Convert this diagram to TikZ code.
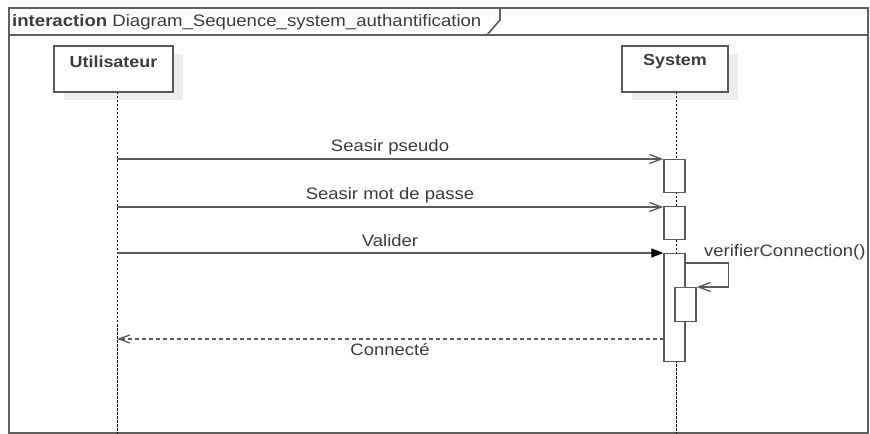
\documentclass[tikz,border=0pt]{standalone}
\usepackage{fontspec}
\setmainfont{Liberation Sans}[FakeStretch=1.12]
\usetikzlibrary{arrows.meta,shadows}
\definecolor{umlline}{HTML}{5A5A5A}
\definecolor{framecol}{HTML}{606060}
\definecolor{txtgray}{HTML}{3C3C3C}
\definecolor{shadowcol}{HTML}{EDEDED}
\begin{document}
\begin{tikzpicture}[x=1bp,y=-1bp,
  framepath/.style={draw=framecol, line width=1.7bp},
  actorbox/.style={draw=umlline, line width=1.4bp, fill=white, inner sep=0,
    minimum height=46bp,
    drop shadow={shadow xshift=10bp, shadow yshift=-8bp, fill=shadowcol, opacity=1}},
  actorname/.style={inner sep=0, text=txtgray, font=\fontsize{16bp}{19bp}\selectfont\bfseries},
  lifeline/.style={draw=black, line width=1bp, dash pattern=on 2.5bp off 1.5bp},
  activation/.style={draw=umlline, fill=white, line width=1.4bp, inner sep=0,
    minimum width=21bp, anchor=north},
  msg/.style={draw=umlline, line width=1.3bp, -{Straight Barb[length=12bp,width=9bp]}},
  syncmsg/.style={draw=umlline, line width=1.3bp,
    -{Triangle[length=12bp,width=9bp,color=black]}},
  reply/.style={draw=umlline, line width=1.3bp, dash pattern=on 4bp off 3bp,
    -{Straight Barb[length=11bp,width=8bp]}},
  msgtext/.style={inner sep=0, text=txtgray, font=\fontsize{16.5bp}{19bp}\selectfont}
]
\useasboundingbox (0,0) rectangle (870,434);

% interaction frame with its name tab
\draw[framepath] (9,8) rectangle (868,433);
\draw[framepath] (9,35) -- (868,35);
\draw[framepath] (500,8) -- (500,20) -- (487,35);
\node[anchor=west, inner sep=0, text=txtgray, font=\fontsize{16.6bp}{19bp}\selectfont] (title) at (12,22)
  {\textbf{interaction} Diagram\_Sequence\_system\_authantification};

% participants
\node[actorbox, minimum width=119bp] (user) at (113.5,69) {};
\node[actorname] (username) at ([yshift=-16bp]user.north) {Utilisateur};
\node[actorbox, minimum width=106bp] (sys) at (675,69) {};
\node[actorname] (sysname) at ([yshift=-16bp]sys.north) {System};

% lifelines
\coordinate (ut) at (117,92);
\coordinate (ub) at (117,433);
\coordinate (st) at (676,92);
\coordinate (sb) at (676,433);
\draw[lifeline] (ut) -- (ub);
\draw[lifeline] (st) -- (sb);

% activations
\node[activation, minimum height=33bp] (a1) at (674.5,159) {};
\node[activation, minimum height=33bp] (a2) at (674.5,206) {};
\node[activation, minimum height=108bp] (a3) at (674.5,253) {};
\node[activation, minimum height=34bp] (a4) at (685.5,287) {};

% messages
\coordinate (u1) at (117,159);
\coordinate (u2) at (117,207);
\coordinate (u3) at (117,253);
\draw[msg] (u1) -- (a1.north west);
\node[msgtext] (m1) at (390,147) {Seasir pseudo};
\draw[msg] (u2) -- (a2.north west |- u2);
\node[msgtext] (m2) at (390,195) {Seasir mot de passe};
\draw[syncmsg] (u3) -- (a3.north west);
\node[msgtext] (m3) at (390,241) {Valider};

% self call
\coordinate (s0) at ([yshift=-10bp]a3.north east);
\draw[msg] (s0) -- ++(43,0) |- (a4.north east);
\node[msgtext, anchor=west] (m4) at (704,252) {verifierConnection()};

% reply
\coordinate (r0) at (664,339);
\coordinate (r1) at (117,339);
\draw[reply] (r0) -- (r1);
\node[msgtext] (m5) at (390,350) {Connecté};
\end{tikzpicture}
\end{document}
